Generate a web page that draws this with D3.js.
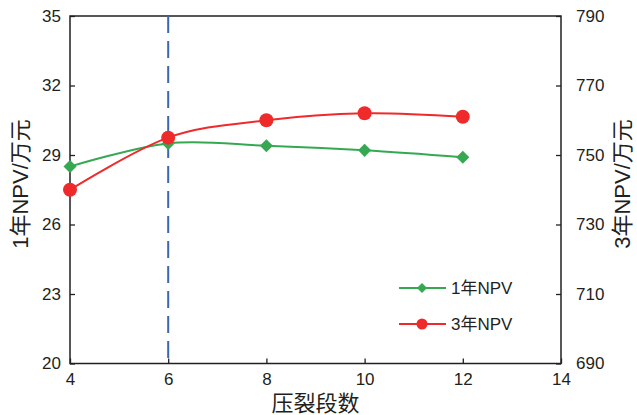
<!DOCTYPE html>
<html><head><meta charset="utf-8">
<script src="https://cdn.jsdelivr.net/npm/d3@7"></script>
<style>body{margin:0;background:#fff}svg{display:block}text{font-family:"Liberation Sans",Arial,"Noto Sans CJK SC",sans-serif;fill:#231f20}</style>
</head><body><svg id="c" width="637" height="415"></svg>
<script>
const stages = [4, 6, 8, 10, 12];
const npv1 = [28.5, 29.5, 29.4, 29.2, 28.9];
const npv3 = [740, 755, 760, 762, 761];
const xTicks = [4, 6, 8, 10, 12, 14];
const yLeftTicks = [20, 23, 26, 29, 32, 35];
const yRightTicks = [690, 710, 730, 750, 770, 790];
const optimalStage = 6;
const seriesNames = ["1年NPV", "3年NPV"];

const W = 637, H = 415;
const m = {l: 70, r: 561, t: 16, b: 363.5};
const svg = d3.select("#c");
const x = d3.scaleLinear().domain([4, 14]).range([m.l, m.r]);
const yL = d3.scaleLinear().domain([20, 35]).range([m.b, m.t]);
const yR = d3.scaleLinear().domain([690, 790]).range([m.b, m.t]);
const green = "#36a852", red = "#ee2a2a", blue = "#3a67b0";

// frame
svg.append("rect").attr("x", m.l).attr("y", m.t).attr("width", m.r - m.l).attr("height", m.b - m.t)
  .attr("fill", "none").attr("stroke", "#231f20").attr("stroke-width", 1.5);

const axStyle = g => { g.select(".domain").remove(); g.selectAll("line").attr("stroke", "#231f20").attr("stroke-width", 1.3);
  g.selectAll("text").style("font-size", "17px").attr("fill", "#231f20"); };

svg.append("g").attr("transform", `translate(0,${m.b})`)
  .call(d3.axisBottom(x).tickValues(xTicks).tickSize(-5).tickPadding(9).tickFormat(d3.format("d"))).call(axStyle);
svg.append("g").attr("transform", `translate(${m.l},0)`)
  .call(d3.axisLeft(yL).tickValues(yLeftTicks).tickSize(-5).tickPadding(9).tickFormat(d3.format("d"))).call(axStyle);
svg.append("g").attr("transform", `translate(${m.r},0)`)
  .call(d3.axisRight(yR).tickValues(yRightTicks).tickSize(-5).tickPadding(15).tickFormat(d3.format("d"))).call(axStyle);

// dashed vertical line
svg.append("line").attr("x1", x(optimalStage)).attr("x2", x(optimalStage)).attr("y1", m.t).attr("y2", m.b)
  .attr("stroke", blue).attr("stroke-width", 2).attr("stroke-dasharray", "17,8");

const curve = d3.curveCardinal.tension(0);
const l1 = d3.line().x((d, i) => x(stages[i])).y(d => yL(d)).curve(curve);
const l3 = d3.line().x((d, i) => x(stages[i])).y(d => yR(d)).curve(curve);

svg.append("path").attr("d", l1(npv1)).attr("fill", "none").attr("stroke", green).attr("stroke-width", 2);
svg.append("path").attr("d", l3(npv3)).attr("fill", "none").attr("stroke", red).attr("stroke-width", 2);

const diamond = d3.symbol().type(d3.symbolSquare).size(85);
svg.selectAll(".d1").data(npv1).enter().append("path")
  .attr("d", diamond).attr("transform", (d, i) => `translate(${x(stages[i])},${yL(d)}) rotate(45)`).attr("fill", green);
svg.selectAll(".d3").data(npv3).enter().append("circle")
  .attr("cx", (d, i) => x(stages[i])).attr("cy", d => yR(d)).attr("r", 7).attr("fill", red);

// legend
const leg = [{name: seriesNames[0], c: green, y: 288, sym: "d"}, {name: seriesNames[1], c: red, y: 324, sym: "c"}];
leg.forEach(L => {
  svg.append("line").attr("x1", 399).attr("x2", 446).attr("y1", L.y).attr("y2", L.y).attr("stroke", L.c).attr("stroke-width", 2);
  if (L.sym === "d") svg.append("path").attr("d", d3.symbol().type(d3.symbolSquare).size(50))
    .attr("transform", `translate(422,${L.y}) rotate(45)`).attr("fill", L.c);
  else svg.append("circle").attr("cx", 422).attr("cy", L.y).attr("r", 5.5).attr("fill", L.c);
  svg.append("text").attr("x", 451).attr("y", L.y + 6).style("font-size", "17px").text(L.name);
});

// axis titles
svg.append("text").attr("x", (m.l + m.r) / 2).attr("y", 411).attr("text-anchor", "middle").style("font-size", "22px").text("压裂段数");
svg.append("text").attr("transform", `translate(28,184) rotate(-90)`).attr("text-anchor", "middle").style("font-size", "22px").text("1年NPV/万元");
svg.append("text").attr("transform", `translate(630,184) rotate(-90)`).attr("text-anchor", "middle").style("font-size", "22px").text("3年NPV/万元");
</script></body></html>
